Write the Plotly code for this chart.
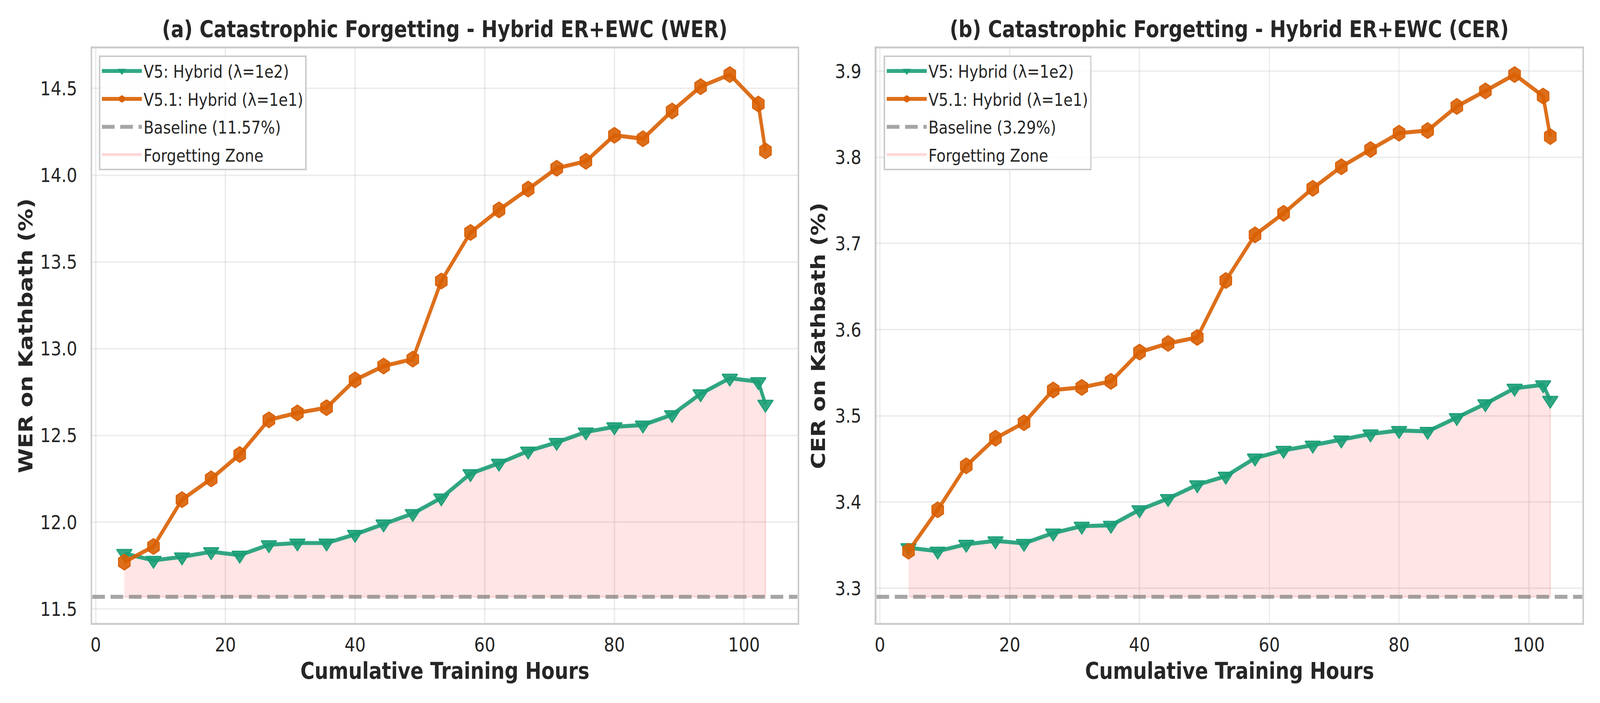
import plotly.graph_objects as go

# ---------------- data ----------------
hours = [4.4, 8.9, 13.3, 17.8, 22.2, 26.7, 31.1, 35.6, 40.0, 44.4, 48.9, 53.3,
         57.8, 62.2, 66.7, 71.1, 75.6, 80.0, 84.4, 88.9, 93.3, 97.8, 102.2, 103.3]

wer_v5 = [11.82, 11.78, 11.80, 11.83, 11.81, 11.87, 11.88, 11.88, 11.93, 11.99, 12.05, 12.14,
          12.28, 12.34, 12.41, 12.46, 12.52, 12.55, 12.56, 12.62, 12.74, 12.83, 12.81, 12.68]
wer_v51 = [11.77, 11.86, 12.13, 12.25, 12.39, 12.59, 12.63, 12.66, 12.82, 12.90, 12.94, 13.39,
           13.67, 13.80, 13.92, 14.04, 14.08, 14.23, 14.21, 14.37, 14.51, 14.58, 14.41, 14.14]
cer_v5 = [3.347, 3.343, 3.351, 3.355, 3.352, 3.364, 3.372, 3.373, 3.391, 3.404, 3.420, 3.430,
          3.451, 3.460, 3.466, 3.472, 3.479, 3.483, 3.482, 3.498, 3.514, 3.532, 3.536, 3.518]
cer_v51 = [3.343, 3.391, 3.442, 3.474, 3.492, 3.530, 3.533, 3.540, 3.574, 3.584, 3.591, 3.657,
           3.710, 3.735, 3.764, 3.789, 3.809, 3.828, 3.831, 3.859, 3.877, 3.896, 3.871, 3.824]

wer_baseline = 11.57
cer_baseline = 3.29

series_names = ["V5: Hybrid (λ=1e2)", "V5.1: Hybrid (λ=1e1)"]
titles = ["(a) Catastrophic Forgetting - Hybrid ER+EWC (WER)",
          "(b) Catastrophic Forgetting - Hybrid ER+EWC (CER)"]
ylabels = ["WER on Kathbath (%)", "CER on Kathbath (%)"]
xlabel = "Cumulative Training Hours"
x_ticks = [0, 20, 40, 60, 80, 100]

# ---------------- style ----------------
W, H = 4800, 1800
FONT = "DejaVu Sans"
TXT = "#262626"
GREEN = "27,158,119"
ORANGE = "217,95,2"

def px(v, total):
    return v / total

left_dom = [px(272, W), px(2390, W)]
right_dom = [px(2627, W), px(4747, W)]
y_dom = [1 - px(1595, H), 1 - px(124, H)]


def padded(lo, hi, frac=0.05):
    span = hi - lo
    return [lo - frac * span, hi + frac * span]

x_range = padded(min(hours), max(hours))

fig = go.Figure()

panels = [
    dict(v5=wer_v5, v51=wer_v51, base=wer_baseline, xa="x", ya="y", leg="legend"),
    dict(v5=cer_v5, v51=cer_v51, base=cer_baseline, xa="x2", ya="y2", leg="legend2"),
]

for i, p in enumerate(panels):
    n = len(hours)
    base_arr = [p["base"]] * n
    # Forgetting zone (fill between baseline and V5)
    fig.add_trace(go.Scatter(
        x=hours + hours[::-1], y=p["v5"] + base_arr[::-1],
        fill="toself", fillcolor="rgba(255,0,0,0.1)",
        line=dict(color="rgba(255,0,0,0.13)", width=4),
        mode="lines", name="Forgetting Zone", legend=p["leg"],
        legendrank=4, legendgroup=f"fz{i}", xaxis=p["xa"], yaxis=p["ya"],
        hoverinfo="skip"))
    # Baseline
    fig.add_trace(go.Scatter(
        x=x_range, y=[p["base"], p["base"]], mode="lines",
        line=dict(color="rgba(128,128,128,0.7)", width=10.4, dash="38px,17px"),
        name=f"Baseline ({p['base']:.2f}%)", legend=p["leg"], legendrank=3,
        legendgroup=f"bl{i}", xaxis=p["xa"], yaxis=p["ya"]))
    # V5
    fig.add_trace(go.Scatter(
        x=hours, y=p["v5"], mode="lines+markers",
        line=dict(color=f"rgba({GREEN},0.9)", width=10.4),
        marker=dict(symbol="triangle-down", size=40, color=f"rgba({GREEN},0.9)",
                    line=dict(color=f"rgb({GREEN})", width=3)),
        name=series_names[0], legend=p["leg"], legendrank=1,
        legendgroup=f"v5{i}", xaxis=p["xa"], yaxis=p["ya"]))
    # V5.1
    fig.add_trace(go.Scatter(
        x=hours, y=p["v51"], mode="lines+markers",
        line=dict(color=f"rgba({ORANGE},0.9)", width=10.4),
        marker=dict(symbol="hexagon", size=40, color=f"rgba({ORANGE},0.9)",
                    line=dict(color=f"rgb({ORANGE})", width=3)),
        name=series_names[1], legend=p["leg"], legendrank=2,
        legendgroup=f"v51{i}", xaxis=p["xa"], yaxis=p["ya"]))

wer_all = wer_v5 + wer_v51 + [wer_baseline]
cer_all = cer_v5 + cer_v51 + [cer_baseline]
wer_range = padded(min(wer_all), max(wer_all))
cer_range = padded(min(cer_all), max(cer_all))

axis_common = dict(
    showline=True, linecolor="#cccccc", linewidth=5, mirror=True,
    showgrid=True, gridcolor="rgba(204,204,204,0.35)", gridwidth=4,
    zeroline=False, ticks="outside", tickcolor="rgba(0,0,0,0)",
    tickfont=dict(family=FONT, size=50, color=TXT),
)

legend_common = dict(
    bgcolor="rgba(255,255,255,0.8)", bordercolor="#cccccc", borderwidth=4,
    font=dict(family=FONT, size=45, color=TXT), xanchor="left", yanchor="top",
    tracegroupgap=10, itemwidth=120,
)

fig.update_layout(
    width=W, height=H, autosize=False,
    margin=dict(l=0, r=0, t=0, b=0),
    paper_bgcolor="white", plot_bgcolor="white",
    xaxis=dict(domain=left_dom, range=x_range, tickvals=x_ticks, ticklen=8,
               anchor="y", **axis_common),
    yaxis=dict(domain=y_dom, range=wer_range, dtick=0.5, tickformat=".1f", ticklen=30,
               anchor="x", **axis_common),
    xaxis2=dict(domain=right_dom, range=x_range, tickvals=x_ticks, ticklen=8,
                anchor="y2", **axis_common),
    yaxis2=dict(domain=y_dom, range=cer_range, dtick=0.1, tickformat=".1f", ticklen=30,
                anchor="x2", **axis_common),
    legend=dict(x=px(292, W), y=1 - px(142, H), **legend_common),
    legend2=dict(x=px(2649, W), y=1 - px(142, H), **legend_common),
    showlegend=True,
)

annotations = []
centers = [(left_dom[0] + left_dom[1]) / 2, (right_dom[0] + right_dom[1]) / 2]
ylab_x = [px(72, W), px(2452, W)]
for i in range(2):
    annotations.append(dict(
        text=f"<b>{titles[i]}</b>", x=centers[i], y=1 - px(75, H), xref="paper", yref="paper",
        xanchor="center", yanchor="middle", showarrow=False,
        font=dict(family=FONT, size=58, color=TXT)))
    annotations.append(dict(
        text=f"<b>{xlabel}</b>", x=centers[i], y=1 - px(1718, H), xref="paper", yref="paper",
        xanchor="center", yanchor="middle", showarrow=False,
        font=dict(family=FONT, size=58, color=TXT)))
    annotations.append(dict(
        text=f"<b>{ylabels[i]}</b>", x=ylab_x[i], y=(y_dom[0] + y_dom[1]) / 2,
        xref="paper", yref="paper", xanchor="center", yanchor="middle",
        textangle=-90, showarrow=False,
        font=dict(family=FONT, size=58, color=TXT)))
fig.update_layout(annotations=annotations)

# The 4800x1800 figure is fitted to whatever viewport the page is opened in
# (the browser may cap the window width), so the photo keeps the reference layout.
post = """
(function(){
  var gd = document.getElementById('{plot_id}');
  var W = %d, H = %d;
  var vw = window.innerWidth, vh = window.innerHeight;
  var sx = vw / W, sy = vh / H;
  document.documentElement.style.margin = '0';
  document.body.style.margin = '0';
  document.documentElement.style.overflow = 'hidden';
  document.body.style.overflow = 'hidden';
  var wrap = gd.parentElement;
  wrap.style.width = vw + 'px';
  wrap.style.height = vh + 'px';
  wrap.style.overflow = 'hidden';
  gd.style.transformOrigin = '0 0';
  gd.style.transform = 'scale(' + sx + ',' + sy + ')';
})();
""" % (W, H)

fig.write_html("out.html", post_script=post, config={"displayModeBar": False})
